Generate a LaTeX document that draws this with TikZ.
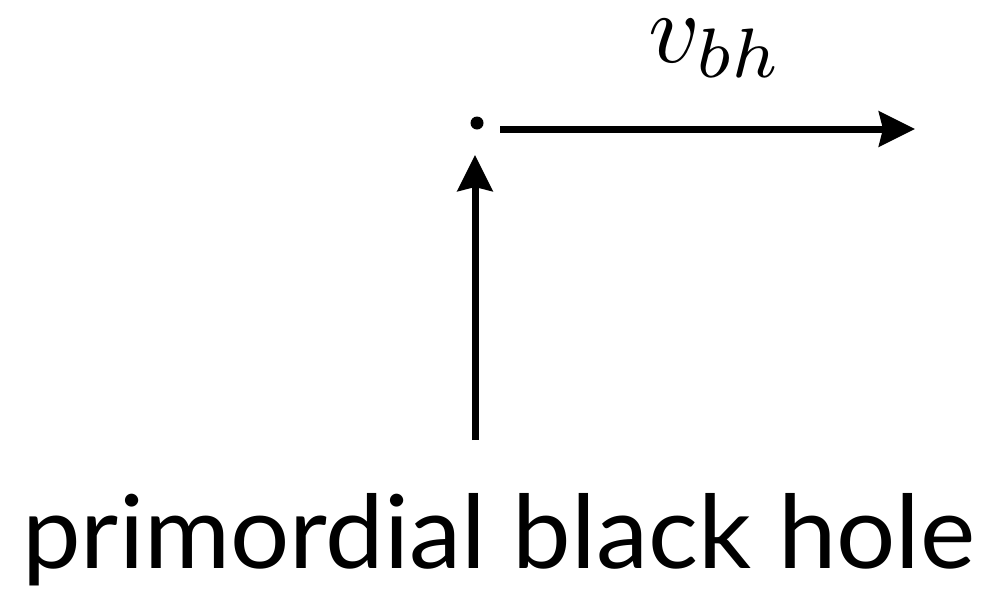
\documentclass[tikz,border=0pt]{standalone}
\usepackage{fontspec}
\setmainfont{Lato}
\usetikzlibrary{arrows.meta}
\tikzset{
  vec/.style={line width=7pt, -{Stealth[length=36pt,width=35pt,inset=4pt]}},
  pt/.style={circle, fill=black, inner sep=0pt, minimum size=13pt},
  lbl/.style={inner sep=0pt}
}
\begin{document}
\begin{tikzpicture}[x=1pt,y=-1pt]
\useasboundingbox (0,0) rectangle (987,598);
\node[pt] (dot) at (477,123) {};
\coordinate (hstart) at (500,129);
\coordinate (htip) at (915,129);
\coordinate (vbot) at (475,440);
\coordinate (vtip) at (475,155);
\draw[vec] (hstart) -- (htip);
\draw[vec] (vbot) -- (vtip);
\node[lbl, anchor=base west] (v) at (648,62) {\scalebox{10}{$v_{bh}$}};
\node[lbl, anchor=base west] (pbh) at (22,568) {\resizebox{953pt}{75pt}{primordial black hole}};
\end{tikzpicture}
\end{document}
